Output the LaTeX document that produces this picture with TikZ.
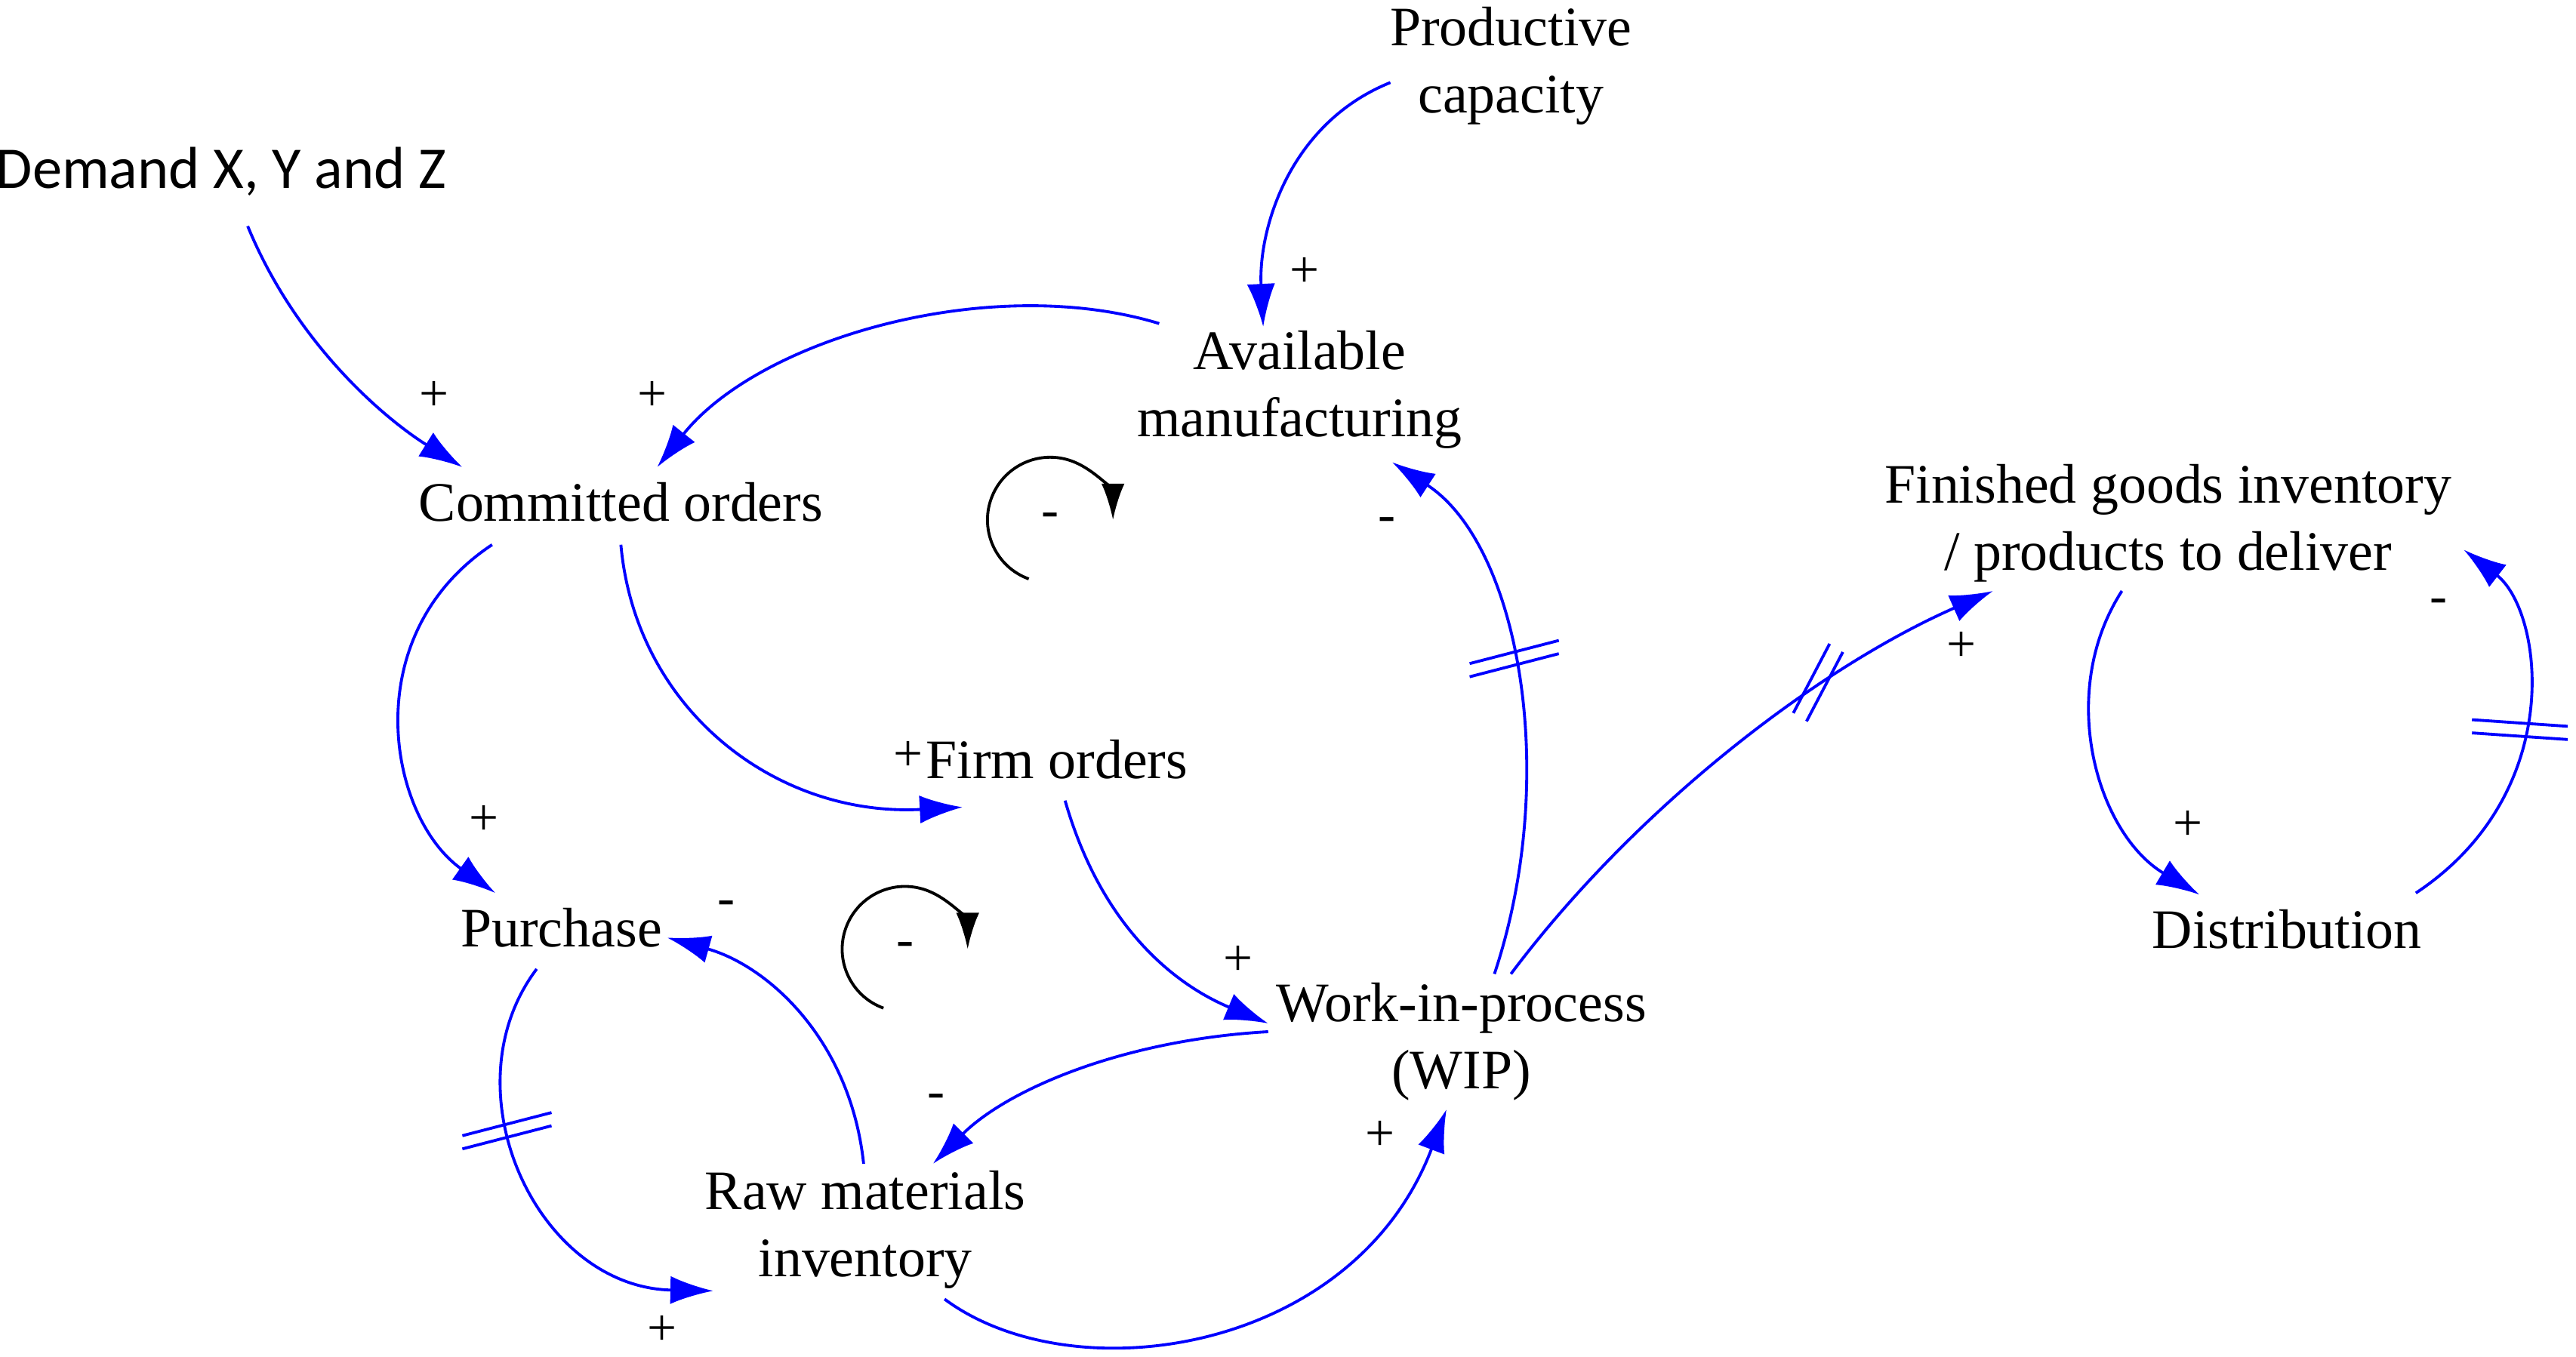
\documentclass[tikz,border=0pt]{standalone}
\usepackage{fontspec}
\setmainfont{Liberation Serif}
\newfontfamily\calib{Carlito}
\usetikzlibrary{arrows.meta}
\begin{document}
\begin{tikzpicture}[x=0.01cm,y=-0.01cm,
  lbl/.style={font=\fontsize{9.6}{11.5}\selectfont,align=center,inner sep=1pt},
  sgn/.style={font=\fontsize{9}{10}\selectfont,inner sep=0pt},
  link/.style={draw=blue,line width=0.5pt,-{Latex[length=0.26cm,width=0.17cm]},fill=none},
  delay/.style={draw=blue,line width=0.5pt},
  loopc/.style={draw=black,line width=0.5pt,-{Latex[length=0.22cm,width=0.14cm]}}]
\useasboundingbox (0,0) rectangle (1560,822);
% nodes
\node[lbl] (prod) at (915,40) {Productive\\capacity};
\node[font=\calib\fontsize{10.2}{12}\selectfont,inner sep=1pt] (dem) at (134,104) {Demand X, Y and Z};
\node[lbl] (avail) at (787,236) {Available\\manufacturing};
\node[lbl] (comm) at (376,304) {Committed orders};
\node[lbl] (fin) at (1313,317) {Finished goods inventory\\/ products to deliver};
\node[lbl] (firm) at (640,460) {Firm orders};
\node[lbl] (purch) at (340,562) {Purchase};
\node[lbl] (dist) at (1385,563) {Distribution};
\node[lbl] (wip) at (885,631) {Work-in-process\\(WIP)};
\node[lbl] (raw) at (524,745) {Raw materials\\inventory};
% endpoints
\coordinate (p1) at (842,50); \coordinate (a1) at (765,198);
\coordinate (d1) at (150,137); \coordinate (c1) at (280,283);
\coordinate (a2) at (702,196); \coordinate (c2) at (398,283);
\coordinate (c3) at (298,330); \coordinate (u1) at (300,541);
\coordinate (c4) at (376,330); \coordinate (f1) at (583,489);
\coordinate (f2) at (645,485); \coordinate (w1) at (768,620);
\coordinate (w2) at (905,590); \coordinate (a3) at (843,280);
\coordinate (w3) at (768,625); \coordinate (r1) at (565,705);
\coordinate (r2) at (523,705); \coordinate (u2) at (404,568);
\coordinate (u3) at (325,587); \coordinate (r3) at (432,782);
\coordinate (r4) at (572,787); \coordinate (w4) at (876,672);
\coordinate (w5) at (915,590); \coordinate (g1) at (1207,358);
\coordinate (g2) at (1285,358); \coordinate (s1) at (1332,542);
\coordinate (s2) at (1463,541); \coordinate (g3) at (1492,333);
% links
\draw[link] (p1) .. controls (780,75) and (762,140) .. (a1);
\draw[link] (d1) .. controls (180,210) and (235,255) .. (c1);
\draw[link] (a2) .. controls (600,165) and (460,205) .. (c2);
\draw[link] (c3) .. controls (215,385) and (235,495) .. (u1);
\draw[link] (c4) .. controls (385,430) and (470,495) .. (f1);
\draw[link] (f2) .. controls (668,565) and (715,598) .. (w1);
\draw[link] (w2) .. controls (945,470) and (920,330) .. (a3);
\draw[link] (w3) .. controls (680,630) and (610,660) .. (r1);
\draw[link] (r2) .. controls (515,630) and (465,585) .. (u2);
\draw[link] (u3) .. controls (270,660) and (325,780) .. (r3);
\draw[link] (r4) .. controls (650,845) and (820,820) .. (w4);
\draw[link] (w5) .. controls (990,490) and (1100,405) .. (g1);
\draw[link] (g2) .. controls (1245,420) and (1270,505) .. (s1);
\draw[link] (s2) .. controls (1555,480) and (1540,370) .. (g3);
% delays
\draw[delay] (890,402)--(944,388) (890,410)--(944,396);
\draw[delay] (280,688)--(334,674) (280,696)--(334,682);
\draw[delay] (1086,432)--(1108,390) (1094,437)--(1116,395);
\draw[delay] (1497,436)--(1555,440) (1497,444)--(1555,448);
% loops
\coordinate (L1) at (636,315); \coordinate (L2) at (548,575);
\draw[loopc] (L1) ++(110:38) arc[start angle=110,end angle=360,radius=38];
\draw[loopc] (L2) ++(110:38) arc[start angle=110,end angle=360,radius=38];
\node[sgn] (l1s) at (L1) {-};
\node[sgn] (l2s) at (L2) {-};
% signs
\foreach \p in {(790,165),(263,240),(395,240),(293,497),(550,458),(750,582),(836,688),(401,806),(1188,392),(1325,500)}
  \node[sgn] at \p {+};
\foreach \p in {(840,318),(440,550),(567,667),(1477,367)}
  \node[sgn] at \p {-};
\end{tikzpicture}
\end{document}
